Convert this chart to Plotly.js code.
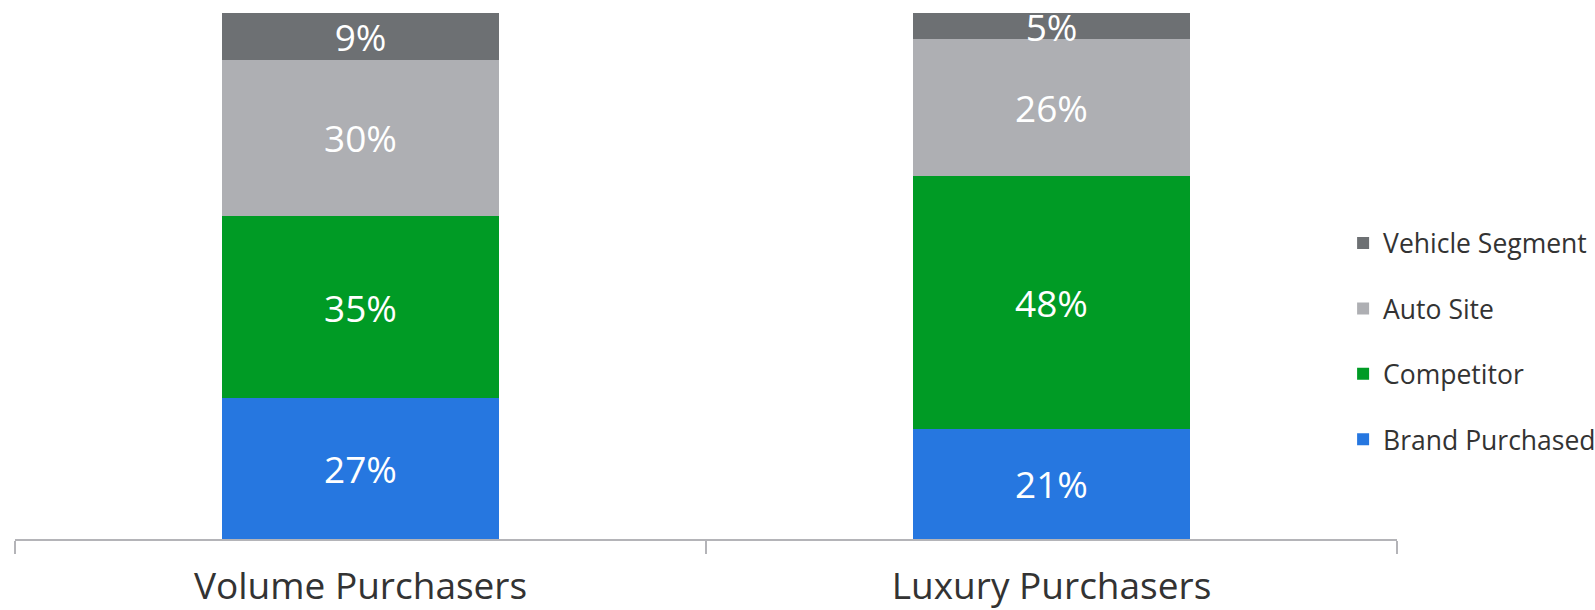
<!DOCTYPE html>
<html>
<head>
<meta charset="utf-8">
<script src="https://cdn.plot.ly/plotly-3.0.1.min.js"></script>
<style>
  html, body { margin: 0; padding: 0; background: #ffffff; }
  #chart { width: 1595px; height: 610px; }
</style>
</head>
<body>
<div id="chart"></div>
<script>
// Data
const categories = ['Volume Purchasers', 'Luxury Purchasers'];
const seriesNames = ['Brand Purchased', 'Competitor', 'Auto Site', 'Vehicle Segment'];
const brandPurchased = [27, 21];
const competitor = [35, 48];
const autoSite = [30, 26];
const vehicleSegment = [9, 5];

const seriesValues = [brandPurchased, competitor, autoSite, vehicleSegment];
const seriesColors = ['#2677e0', '#009b25', '#aeafb3', '#6d7073'];

const FONT = '"Open Sans", "Noto Sans", sans-serif';

const traces = seriesValues.map((vals, i) => ({
  type: 'bar',
  name: seriesNames[i],
  legendgroup: seriesNames[i],
  legendrank: seriesNames.length - i,
  x: categories,
  y: vals,
  text: vals.map(v => v + '%'),
  textposition: 'inside',
  insidetextanchor: 'middle',
  constraintext: 'none',
  textfont: { family: FONT, size: 37, color: '#ffffff' },
  marker: { color: seriesColors[i], line: { width: 0 } },
  hoverinfo: 'skip',
  cliponaxis: false
}));

const layout = {
  width: 1595,
  height: 610,
  margin: { l: 14.5, r: 198, t: 13, b: 71, pad: 0, autoexpand: false },
  paper_bgcolor: '#ffffff',
  plot_bgcolor: '#ffffff',
  barmode: 'stack',
  barnorm: 'percent',
  bargap: 0.6,
  showlegend: true,
  legend: {
    orientation: 'v',
    traceorder: 'grouped',
    tracegroupgap: 28,
    x: 0.961,
    xanchor: 'left',
    y: 0.376,
    yanchor: 'middle',
    font: { family: FONT, size: 26.5, color: '#333333' },
    bgcolor: 'rgba(0,0,0,0)',
    borderwidth: 0
  },
  xaxis: {
    type: 'category',
    range: [-0.5, 1.5],
    showline: true,
    linecolor: '#b4b4b8',
    linewidth: 2,
    ticks: 'outside',
    tickson: 'boundaries',
    ticklen: 13,
    tickwidth: 2,
    tickcolor: '#b4b4b8',
    ticklabelstandoff: 14,
    showgrid: false,
    zeroline: false,
    tickfont: { family: FONT, size: 37, color: '#333333' },
    fixedrange: true
  },
  yaxis: {
    range: [0, 100],
    visible: false,
    showgrid: false,
    zeroline: false,
    fixedrange: true
  },
  font: { family: FONT }
};

Plotly.newPlot('chart', traces, layout, { displayModeBar: false, staticPlot: true });
</script>
</body>
</html>
